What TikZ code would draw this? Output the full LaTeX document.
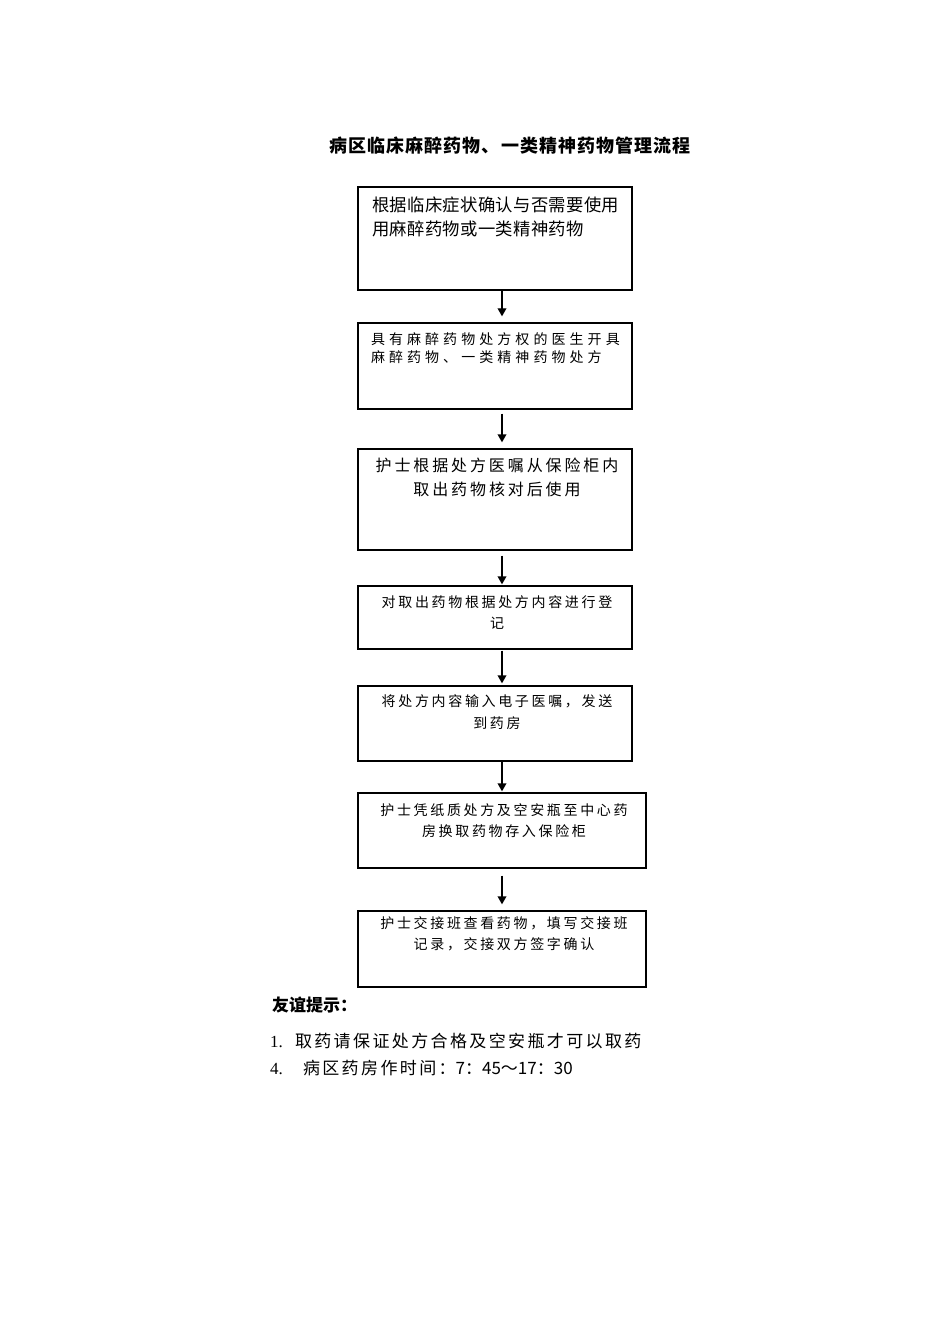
\documentclass[tikz,border=0pt]{standalone}
\usepackage{fontspec}
\setmainfont{Liberation Serif}
\newfontfamily\cjk{Noto Sans CJK SC}
\usetikzlibrary{arrows.meta,calc}
\newlength\pxu
\setlength\pxu{0.75pt}
\tikzset{
  box/.style={draw=black, line width=1pt, inner sep=0pt, fill=none},
  txt/.style={inner sep=0pt, outer sep=0pt},
  arr/.style={line width=1pt, -{Triangle[length=6pt,width=6.5pt]}},
}
\begin{document}
\begin{tikzpicture}[x=0.75pt,y=-0.75pt]
\useasboundingbox (0,0) rectangle (950,1344);
\fill[white] (0,0) rectangle (950,1344);
\coordinate (ax) at (502,0);

% title
\node[txt, anchor=north] (title) at (510,137)
  {\cjk\bfseries\addfontfeature{LetterSpace=6}\fontsize{13.5pt}{16pt}\selectfont 病区临床麻醉药物、一类精神药物管理流程};

% boxes
\node[box, minimum width={274*0.75pt}, minimum height={103*0.75pt}] (b1) at (495,238.5) {};
\node[box, minimum width={274*0.75pt}, minimum height={86*0.75pt}] (b2) at (495,366) {};
\node[box, minimum width={274*0.75pt}, minimum height={101*0.75pt}] (b3) at (495,499.5) {};
\node[box, minimum width={274*0.75pt}, minimum height={63*0.75pt}] (b4) at (495,617.5) {};
\node[box, minimum width={274*0.75pt}, minimum height={75*0.75pt}] (b5) at (495,723.5) {};
\node[box, minimum width={288*0.75pt}, minimum height={75*0.75pt}] (b6) at (502,830.5) {};
\node[box, minimum width={288*0.75pt}, minimum height={76*0.75pt}] (b7) at (502,949) {};

% box texts
\node[txt, anchor=north west, align=left,
  font={\cjk\addfontfeature{LetterSpace=2}\fontsize{13pt}{17.6pt}\selectfont}] (t1) at (372,197)
  {根据临床症状确认与否需要使用\\用麻醉药物或一类精神药物};
\node[txt, anchor=north west, align=left,
  font={\cjk\addfontfeature{LetterSpace=29}\fontsize{10.5pt}{13pt}\selectfont}] (t2) at (371,333)
  {具有麻醉药物处方权的医生开具\\麻醉药物、一类精神药物处方};
\node[txt, anchor=north, align=center,
  font={\cjk\addfontfeature{LetterSpace=18}\fontsize{12pt}{18pt}\selectfont}] (t3) at (497,458)
  {护士根据处方医嘱从保险柜内\\取出药物核对后使用};
\node[txt, anchor=north, align=center,
  font={\cjk\addfontfeature{LetterSpace=19}\fontsize{10.5pt}{15.75pt}\selectfont}] (t4) at (497,596)
  {对取出药物根据处方内容进行登\\记};
\node[txt, anchor=north, align=center,
  font={\cjk\addfontfeature{LetterSpace=19}\fontsize{10.5pt}{16pt}\selectfont}] (t5) at (497,695)
  {将处方内容输入电子医嘱，发送\\到药房};
\node[txt, anchor=north, align=center,
  font={\cjk\addfontfeature{LetterSpace=19}\fontsize{10.5pt}{15.75pt}\selectfont}] (t6) at (504,804)
  {护士凭纸质处方及空安瓶至中心药\\房换取药物存入保险柜};
\node[txt, anchor=north, align=center,
  font={\cjk\addfontfeature{LetterSpace=19}\fontsize{10.5pt}{15.75pt}\selectfont}] (t7) at (504,917)
  {护士交接班查看药物，填写交接班\\记录，交接双方签字确认};

% arrows
\draw[arr] ($(b1.south -| ax)+(0,0)$) -- ($(b2.north -| ax)+(0,-6)$);
\draw[arr] ($(b2.south -| ax)+(0,4)$) -- ($(b3.north -| ax)+(0,-6)$);
\draw[arr] ($(b3.south -| ax)+(0,5)$) -- ($(b4.north -| ax)+(0,-1)$);
\draw[arr] ($(b4.south -| ax)+(0,1)$) -- ($(b5.north -| ax)+(0,-2)$);
\draw[arr] ($(b5.south -| ax)+(0,0)$) -- ($(b6.north -| ax)+(0,-1)$);
\draw[arr] ($(b6.south -| ax)+(0,7)$) -- ($(b7.north -| ax)+(0,-6)$);

% notes
\node[txt, anchor=north west,
  font={\cjk\bfseries\fontsize{12.75pt}{15pt}\selectfont}] (tip) at (272,997) {友谊提示：};
\node[txt, anchor=north west,
  font={\fontsize{12.75pt}{15pt}\selectfont}] (n1) at (270,1033)
  {\makebox[25\pxu][l]{1.}{\cjk\addfontfeature{LetterSpace=14}取药请保证处方合格及空安瓶才可以取药}};
\node[txt, anchor=north west,
  font={\fontsize{12.75pt}{15pt}\selectfont}] (n4) at (270,1060)
  {\makebox[33\pxu][l]{4.}{\cjk\addfontfeature{LetterSpace=14}病区药房作时间：}{\cjk 7：45～17：30}};
\end{tikzpicture}
\end{document}
